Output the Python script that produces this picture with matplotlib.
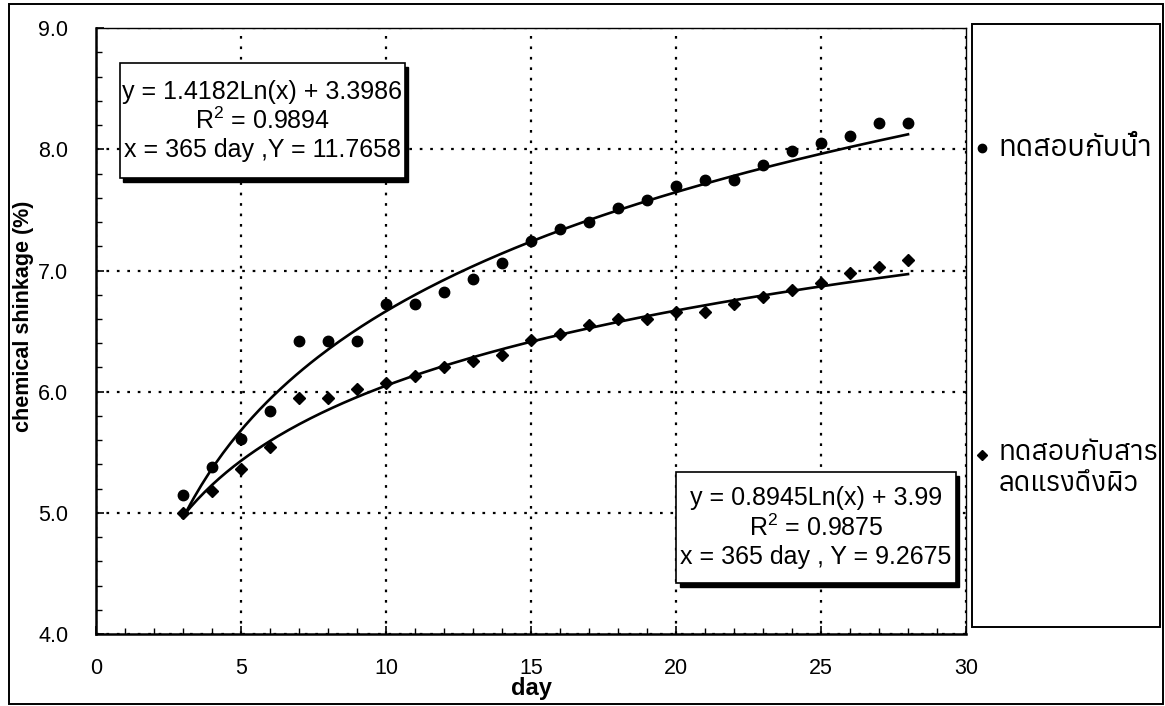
import numpy as np
import matplotlib
matplotlib.use('Agg')
import matplotlib.pyplot as plt
from matplotlib import font_manager
from matplotlib.ft2font import FT2Font
from matplotlib.lines import Line2D
from matplotlib.patches import Rectangle
from matplotlib.ticker import MultipleLocator, FormatStrFormatter

# ---- data ----
days = [3, 4, 5, 6, 7, 8, 9, 10, 11, 12, 13, 14, 15, 16, 17, 18, 19, 20,
        21, 22, 23, 24, 25, 26, 27, 28]
water = [5.15, 5.38, 5.61, 5.84, 6.42, 6.42, 6.42, 6.72, 6.72, 6.82, 6.93, 7.06,
         7.24, 7.34, 7.40, 7.52, 7.58, 7.70, 7.75, 7.75, 7.87, 7.99, 8.05, 8.11,
         8.22, 8.22]
surf = [5.00, 5.18, 5.36, 5.54, 5.95, 5.95, 6.02, 6.07, 6.13, 6.20, 6.25, 6.30,
        6.43, 6.48, 6.55, 6.60, 6.60, 6.66, 6.66, 6.72, 6.78, 6.84, 6.90, 6.98,
        7.03, 7.09]

# log trendlines as printed on the chart: y = a*ln(x) + b
fit_water = (1.4182, 3.3986)
fit_surf = (0.8945, 3.99)

label_water = 'ทดสอบกับน้ำ'
label_surf = 'ทดสอบกับสาร\nลดแรงดึงผิว'
eq_water = 'y = 1.4182Ln(x) + 3.3986\nR$^2$ = 0.9894\nx = 365 day ,Y = 11.7658'
eq_surf = 'y = 0.8945Ln(x) + 3.99\nR$^2$ = 0.9875\nx = 365 day , Y = 9.2675'

FONT = 'Liberation Sans'


def find_thai_font():
    """Anuphan if present, otherwise any system font with Thai glyphs"""
    names = []
    for path in font_manager.findSystemFonts():
        try:
            if 0x0E17 in FT2Font(path).get_charmap():
                names.append(font_manager.FontProperties(fname=path).get_name())
        except Exception:
            continue
    if 'Anuphan' in names:
        return 'Anuphan'
    return sorted(names)[0] if names else None


thai = find_thai_font()
thai_family = [thai, FONT] if thai else [FONT]

plt.rcParams['font.family'] = [FONT, 'DejaVu Sans']
plt.rcParams['mathtext.fontset'] = 'custom'
plt.rcParams['mathtext.rm'] = FONT

fig = plt.figure(figsize=(11.65, 7.06), dpi=100)
ax = fig.add_axes([0.0824, 0.102, 0.7468, 0.858])

# outer chart frame and legend frame
fig.add_artist(Rectangle((0.0077, 0.003), 0.9906, 0.991, transform=fig.transFigure,
                         fill=False, edgecolor='black', linewidth=1.4))
fig.add_artist(Rectangle((0.8343, 0.112), 0.1614, 0.854, transform=fig.transFigure,
                         fill=False, edgecolor='black', linewidth=1.4))

# trendlines
xs = np.linspace(days[0], days[-1], 200)
for a, b in (fit_water, fit_surf):
    ax.plot(xs, a * np.log(xs) + b, color='black', linewidth=1.9, zorder=3)

ax.plot(days, water, linestyle='none', marker='o', markersize=7.5,
        color='black', zorder=4)
ax.plot(days, surf, linestyle='none', marker='D', markersize=6,
        color='black', zorder=4)

ax.set_xlim(0, 30)
ax.set_ylim(4.0, 9.0)
ax.xaxis.set_major_locator(MultipleLocator(5))
ax.xaxis.set_minor_locator(MultipleLocator(1))
ax.yaxis.set_major_locator(MultipleLocator(1))
ax.yaxis.set_minor_locator(MultipleLocator(0.2))
ax.yaxis.set_major_formatter(FormatStrFormatter('%.1f'))
ax.grid(True, which='major', color='black', linestyle=(0, (1.2, 3.5)), linewidth=1.6)
ax.tick_params(which='both', direction='in', labelsize=15.5)
ax.tick_params(axis='x', pad=17)
ax.tick_params(axis='y', pad=20)
ax.tick_params(which='major', length=6, width=1.2)
ax.tick_params(which='minor', length=4, width=1)
for s in ('left', 'bottom'):
    ax.spines[s].set_linewidth(1.8)
for s in ('top', 'right'):
    ax.spines[s].set_linewidth(1.0)

ax.set_xlabel('day', fontsize=17, fontweight='bold')
ax.xaxis.set_label_coords(0.5, -0.071)
ax.set_ylabel('chemical shinkage (%)', fontsize=15.5, fontweight='bold')
ax.yaxis.set_label_coords(-0.071, 0.525)


def eq_box(x0, y0, x1, y1, text):
    """equation box with shadow, coordinates in axes fraction"""
    ax.add_patch(Rectangle((x0 + 0.004, y0 - 0.006), x1 - x0, y1 - y0,
                           transform=ax.transAxes, facecolor='black',
                           edgecolor='black', zorder=5))
    ax.add_patch(Rectangle((x0, y0), x1 - x0, y1 - y0, transform=ax.transAxes,
                           facecolor='white', edgecolor='black', linewidth=1.2,
                           zorder=6))
    ax.text((x0 + x1) / 2, (y0 + y1) / 2, text, transform=ax.transAxes,
            ha='center', va='center', fontsize=18, linespacing=1.2, zorder=7)


eq_box(0.0276, 0.7525, 0.355, 0.942, eq_water)
eq_box(0.667, 0.084, 0.988, 0.267, eq_surf)

# legend drawn by hand inside the right frame
fig.add_artist(Line2D([0.843], [1 - 148 / 706], marker='o', markersize=6,
                      color='black', linestyle='none', transform=fig.transFigure))
fig.text(0.857, 1 - 148 / 706, label_water, fontsize=21, ha='left',
         va='center', family=thai_family)
fig.add_artist(Line2D([0.843], [1 - 455 / 706], marker='D', markersize=5,
                      color='black', linestyle='none', transform=fig.transFigure))
fig.text(0.857, 1 - 468 / 706, label_surf, fontsize=20, ha='left',
         va='center', family=thai_family, linespacing=1.15)

fig.savefig('out.png', dpi=100)
